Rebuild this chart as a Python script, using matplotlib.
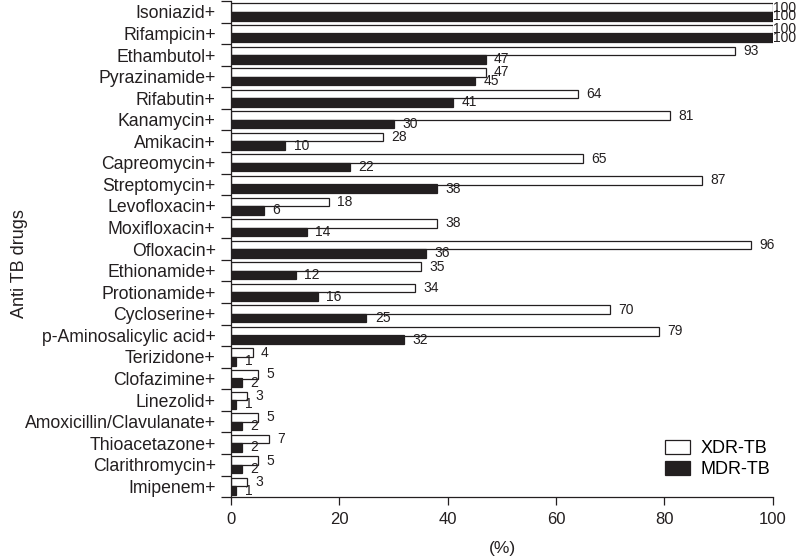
import matplotlib
matplotlib.use("Agg")
import matplotlib.pyplot as plt
import numpy as np

drugs = ["Isoniazid+", "Rifampicin+", "Ethambutol+", "Pyrazinamide+", "Rifabutin+",
         "Kanamycin+", "Amikacin+", "Capreomycin+", "Streptomycin+", "Levofloxacin+",
         "Moxifloxacin+", "Ofloxacin+", "Ethionamide+", "Protionamide+", "Cycloserine+",
         "p-Aminosalicylic acid+", "Terizidone+", "Clofazimine+", "Linezolid+",
         "Amoxicillin/Clavulanate+", "Thioacetazone+", "Clarithromycin+", "Imipenem+"]
xdr = [100, 100, 93, 47, 64, 81, 28, 65, 87, 18, 38, 96, 35, 34, 70, 79, 4, 5, 3, 5, 7, 5, 3]
mdr = [100, 100, 47, 45, 41, 30, 10, 22, 38, 6, 14, 36, 12, 16, 25, 32, 1, 2, 1, 2, 2, 2, 1]

ink = "#231f20"
plt.rcParams["font.family"] = ["Liberation Sans", "DejaVu Sans"]

fig = plt.figure(figsize=(7.98, 5.56), dpi=100)
ax = fig.add_axes([0.2895, 0.106, 0.679, 0.892])

y = np.arange(len(drugs))
h = 0.4
ax.barh(y - 0.19, xdr, height=h, color="white", edgecolor=ink, linewidth=0.9, label="XDR-TB")
ax.barh(y + 0.2, mdr, height=h, color=ink, edgecolor=ink, linewidth=0.9, label="MDR-TB")

# value labels next to each bar
for i in range(len(drugs)):
    for val, off in ((xdr[i], -0.19), (mdr[i], 0.2)):
        dx = 0.3 if val == 100 else 6
        ax.annotate(str(val), (val, y[i] + off), xytext=(dx, 0), textcoords="offset points",
                    ha="left", va="center", fontsize=10, color=ink)

ax.set_xlim(0, 100)
ax.set_ylim(len(drugs) - 0.5, -0.5)
ax.set_xticks([0, 20, 40, 60, 80, 100])
ax.tick_params(axis="x", labelsize=12, colors=ink, length=6, width=0.9, pad=5)

# tick marks between groups, names at group centres
ax.set_yticks(np.arange(len(drugs) + 1) - 0.5)
ax.set_yticklabels([])
ax.set_yticks(y, minor=True)
ax.set_yticklabels(drugs, minor=True, fontsize=12.7, color=ink)
ax.tick_params(axis="y", which="major", length=7, width=0.9, colors=ink)
ax.tick_params(axis="y", which="minor", length=0, pad=11)

for s in ["top", "right"]:
    ax.spines[s].set_visible(False)
for s in ["left", "bottom"]:
    ax.spines[s].set_color(ink)
    ax.spines[s].set_linewidth(0.9)

ax.set_xlabel("(%)", fontsize=12.5, color=ink, labelpad=10)
ax.set_ylabel("Anti TB drugs", fontsize=13, color=ink)
ax.yaxis.set_label_coords(-0.375, 0.47)

ax.legend(loc="lower right", bbox_to_anchor=(1.025, 0.005), frameon=False, fontsize=13,
          handlelength=1.35, handleheight=0.85, handletextpad=0.6, labelspacing=0.2)

fig.savefig("out.png", dpi=100)
